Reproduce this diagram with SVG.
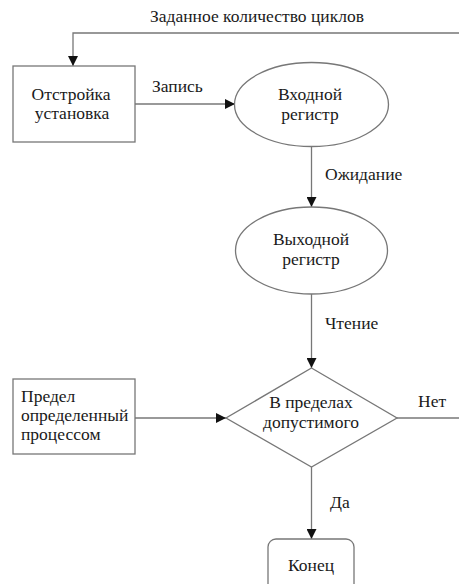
<svg xmlns="http://www.w3.org/2000/svg" width="459" height="584" viewBox="0 0 459 584">
<style>
text{font-family:"Liberation Serif","Times New Roman",serif;font-size:17.5px;fill:#1a1a1a}
.c{text-anchor:middle}
.s{fill:#fff;stroke:#777;stroke-width:1.3}
.l{fill:none;stroke:#777;stroke-width:1.3}
</style>
<defs>
<marker id="a" markerWidth="10" markerHeight="10" refX="10" refY="5" orient="auto" markerUnits="userSpaceOnUse">
<path d="M0,0 L10,5 L0,10 Z" fill="#111"/>
</marker>
</defs>
<rect width="459" height="584" fill="#fff"/>
<g id="connectors">
<path class="l" d="M459,33 H73 V66" marker-end="url(#a)"/>
<path class="l" d="M135,104 H235" marker-end="url(#a)"/>
<path class="l" d="M311.5,146 V207" marker-end="url(#a)"/>
<path class="l" d="M311.5,294 V368" marker-end="url(#a)"/>
<path class="l" d="M135,418 H226" marker-end="url(#a)"/>
<path class="l" d="M397,418 H459"/>
<path class="l" d="M311.5,467 V539" marker-end="url(#a)"/>
<text x="150" y="22">Заданное количество циклов</text>
<text x="152" y="92">Запись</text>
<text x="325" y="180">Ожидание</text>
<text x="325" y="329">Чтение</text>
<text x="418" y="407">Нет</text>
<text x="330" y="508">Да</text>
</g>
<g id="setup">
<rect class="s" x="13" y="66" width="122" height="76"/>
<text class="c" x="71" y="100">Отстройка</text>
<text class="c" x="72" y="119">установка</text>
</g>
<g id="input">
<ellipse class="s" cx="311.5" cy="104.5" rx="77" ry="42"/>
<text class="c" x="310" y="100">Входной</text>
<text class="c" x="310" y="119.5">регистр</text>
</g>
<g id="output">
<ellipse class="s" cx="311.5" cy="250.5" rx="76" ry="43.5"/>
<text class="c" x="311" y="245">Выходной</text>
<text class="c" x="311" y="264.5">регистр</text>
</g>
<g id="limit">
<rect class="s" x="13" y="379" width="122" height="75"/>
<text x="21" y="402">Предел</text>
<text x="21" y="421">определенный</text>
<text x="21" y="440">процессом</text>
</g>
<g id="decision">
<polygon class="s" points="311.5,368 397,418 311.5,467 226,418"/>
<text class="c" x="311" y="408">В пределах</text>
<text class="c" x="311" y="428">допустимого</text>
</g>
<g id="end">
<rect class="s" x="268" y="539" width="86" height="60" rx="8"/>
<text class="c" x="311" y="571">Конец</text>
</g>
</svg>
